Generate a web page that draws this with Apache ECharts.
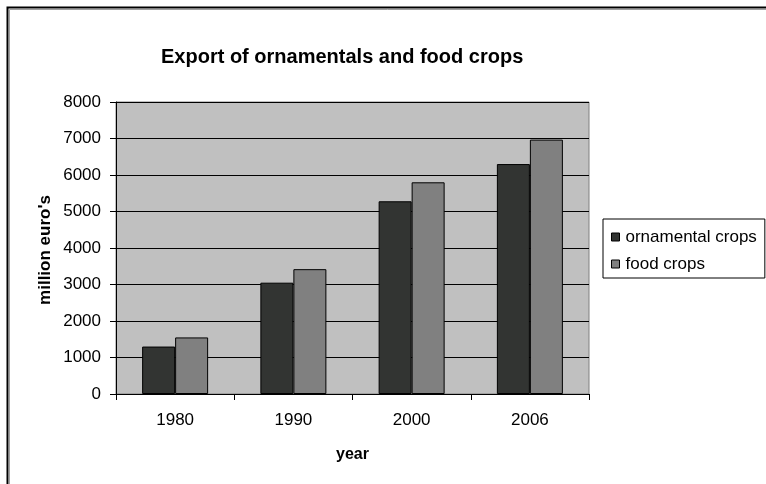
<!DOCTYPE html>
<html>
<head>
<meta charset="utf-8">
<script src="https://cdn.jsdelivr.net/npm/echarts@6/dist/echarts.min.js"></script>
<style>
  html, body { margin: 0; padding: 0; background: #fff; }
  #chart { width: 766px; height: 484px; }
</style>
</head>
<body>
<div id="chart"></div>
<script>
// Export values, million euro's
const years = ['1980', '1990', '2000', '2006'];
const ornamentalCrops = [1300, 3050, 5280, 6300];
const foodCrops = [1550, 3420, 5800, 6970];
const yTicks = { min: 0, max: 8000, step: 1000 };
const yAxisTitle = "million euro's";

const FONT = '"Liberation Sans", Arial, sans-serif';

const chart = echarts.init(document.getElementById('chart'), null, { renderer: 'canvas' });

chart.setOption({
  backgroundColor: '#ffffff',
  animation: false,
  title: {
    text: 'Export of ornamentals and food crops',
    left: 161,
    top: 47,
    padding: 0,
    textStyle: { fontFamily: FONT, fontSize: 20, fontWeight: 'bold', color: '#000' }
  },
  legend: {
    orient: 'vertical',
    left: 603,
    top: 219,
    padding: [9, 8, 5, 8],
    itemGap: 9,
    itemWidth: 8,
    itemHeight: 8,
    icon: 'rect',
    borderColor: '#000',
    borderWidth: 1,
    backgroundColor: '#fff',
    itemStyle: { borderColor: '#000', borderWidth: 1 },
    textStyle: { fontFamily: FONT, fontSize: 17, color: '#000', padding: [0, 0, 0, 1], lineHeight: 18 },
    data: ['ornamental crops', 'food crops']
  },
  grid: {
    left: 116,
    right: 177,
    top: 102,
    bottom: 90,
    show: true,
    backgroundColor: '#c0c0c0',
    borderColor: '#808080',
    borderWidth: 1
  },
  xAxis: {
    type: 'category',
    data: years,
    name: 'year',
    nameLocation: 'middle',
    nameGap: 53,
    nameTextStyle: { fontFamily: FONT, fontSize: 16, fontWeight: 'bold', color: '#000' },
    axisLine: { lineStyle: { color: '#000', width: 1 } },
    axisTick: { show: true, length: 6, alignWithLabel: false, lineStyle: { color: '#000' } },
    axisLabel: { fontFamily: FONT, fontSize: 17, color: '#000', margin: 18 },
    splitLine: { show: false }
  },
  yAxis: {
    type: 'value',
    min: yTicks.min,
    max: yTicks.max,
    interval: yTicks.step,
    axisLine: { show: true, lineStyle: { color: '#000', width: 1 } },
    axisTick: { show: true, length: 6, lineStyle: { color: '#000' } },
    axisLabel: {
      fontFamily: FONT, fontSize: 17, color: '#000', margin: 15,
      formatter: (v) => String(v)
    },
    splitLine: { show: true, lineStyle: { color: '#000', width: 1 } }
  },
  series: [
    {
      name: 'ornamental crops',
      type: 'bar',
      data: ornamentalCrops,
      barWidth: 33,
      barGap: '0%',
      itemStyle: { color: '#323432', borderColor: '#000', borderWidth: 1 }
    },
    {
      name: 'food crops',
      type: 'bar',
      data: foodCrops,
      barWidth: 33,
      barGap: '0%',
      itemStyle: { color: '#808080', borderColor: '#000', borderWidth: 1 }
    }
  ],
  graphic: [
    {
      // chart frame, running off the right and bottom edges
      type: 'polyline',
      shape: { points: [[7.5, 484], [7.5, 7.5], [766, 7.5]] },
      style: { stroke: '#000', lineWidth: 2, fill: null },
      silent: true
    },
    {
      type: 'polyline',
      shape: { points: [[9.5, 484], [9.5, 9.5], [766, 9.5]] },
      style: { stroke: '#a0a0a0', lineWidth: 1, fill: null },
      silent: true
    },
    {
      // vertical value-axis title
      type: 'text',
      x: 45,
      y: 250,
      rotation: Math.PI / 2,
      style: {
        text: yAxisTitle,
        font: 'bold 17px ' + FONT,
        fill: '#000',
        align: 'center',
        verticalAlign: 'middle'
      },
      silent: true
    }
  ]
});
</script>
</body>
</html>
